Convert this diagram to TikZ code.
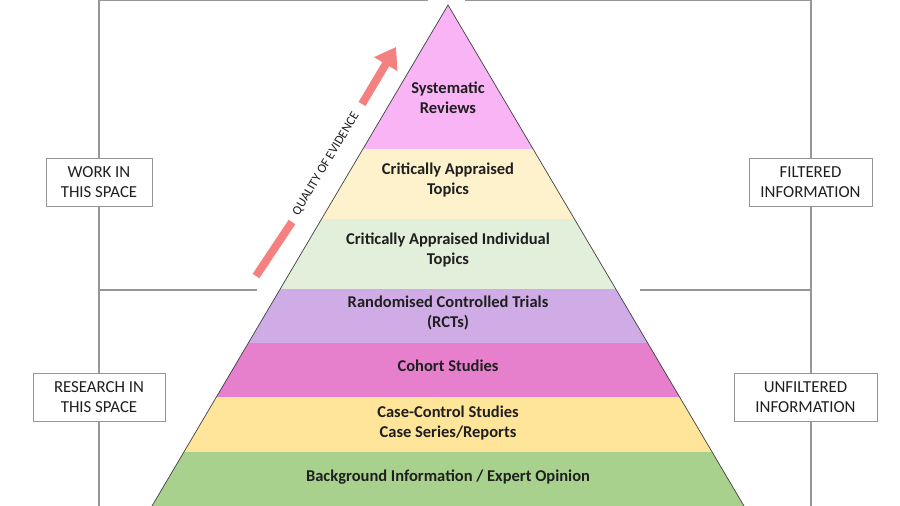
\documentclass[tikz,border=0pt]{standalone}
\usepackage{fontspec}
\setmainfont{Carlito}
\usetikzlibrary{arrows.meta,calc}
\definecolor{cSR}{RGB}{248,180,245}
\definecolor{cCAT}{RGB}{254,242,204}
\definecolor{cCAIT}{RGB}{226,239,218}
\definecolor{cRCT}{RGB}{207,172,230}
\definecolor{cCOH}{RGB}{230,128,204}
\definecolor{cCC}{RGB}{255,229,153}
\definecolor{cBG}{RGB}{169,209,142}
\definecolor{cArr}{RGB}{245,128,128}
\definecolor{cLine}{RGB}{150,150,150}
\tikzset{
  layertext/.style={align=center,font=\fontsize{16.5}{20.5}\selectfont\bfseries,text=black!88},
  sidebox/.style={draw=cLine,line width=0.9pt,fill=white,align=center,minimum height=48pt,inner sep=1pt,font=\fontsize{16.8}{20}\selectfont,text=black!88},
  guide/.style={draw=cLine,line width=1.1pt},
  qarrow/.style={draw=cArr,line width=8pt},
}
\begin{document}
\begin{tikzpicture}[x=1pt,y=-1pt]
\useasboundingbox (0,0) rectangle (900,506);
% pyramid layers
\fill[cSR] (448,5) -- (533.1,149) -- (362.9,149) -- cycle;
\fill[cCAT] (362.9,149) -- (533.1,149) -- (574.4,219) -- (321.6,219) -- cycle;
\fill[cCAIT] (321.6,219) -- (574.4,219) -- (615.8,289) -- (280.2,289) -- cycle;
\fill[cRCT] (280.2,289) -- (615.8,289) -- (647.7,343) -- (248.3,343) -- cycle;
\fill[cCOH] (248.3,343) -- (647.7,343) -- (679.6,397) -- (216.4,397) -- cycle;
\fill[cCC] (216.4,397) -- (679.6,397) -- (712.1,452) -- (183.9,452) -- cycle;
\fill[cBG] (183.9,452) -- (712.1,452) -- (744,506) -- (152,506) -- cycle;
\coordinate (apex) at (448,5);
\coordinate (bl) at (152,506);
\coordinate (br) at (744,506);
\draw[black!75,line width=0.7pt] (bl) -- (apex) -- (br);
% layer texts
\node[layertext] (sr) at (448,98) {Systematic\\Reviews};
\node[layertext] (cat) at (448,180) {Critically Appraised\\Topics};
\node[layertext] (cait) at (448,250) {Critically Appraised Individual\\Topics};
\node[layertext] (rct) at (448,313) {Randomised Controlled Trials\\(RCTs)};
\node[layertext] (coh) at (448,366) {Cohort Studies};
\node[layertext] (cc) at (448,423) {Case-Control Studies\\Case Series/Reports};
\node[layertext] (bg) at (448,477) {Background Information / Expert Opinion};
% guide lines
\coordinate (lt) at (99,0.6);
\coordinate (lb) at (99,506);
\coordinate (rt) at (811,0.6);
\coordinate (rb) at (811,506);
\coordinate (gapl) at (428,0.6);
\coordinate (gapr) at (465,0.6);
\coordinate (ml) at (99,290);
\coordinate (mle) at (257,290);
\coordinate (mr) at (811,290);
\coordinate (mre) at (640,290);
\node[sidebox,minimum width=106pt] (work) at (99,182) {WORK IN\\THIS SPACE};
\node[sidebox,minimum width=132pt] (research) at (99,397) {RESEARCH IN\\THIS SPACE};
\node[sidebox,minimum width=123pt] (filt) at (810.5,182) {FILTERED\\INFORMATION};
\node[sidebox,minimum width=143pt] (unfilt) at (805.5,397) {UNFILTERED\\INFORMATION};
\draw[guide] (gapl) -- (lt) -- (work.north);
\draw[guide] (work.south) -- (research.north);
\draw[guide] (research.south) -- (lb);
\draw[guide] (gapr) -- (rt) -- (rt |- filt.north);
\draw[guide] (rt |- filt.south) -- (rt |- unfilt.north);
\draw[guide] (rt |- unfilt.south) -- (rb);
\draw[guide] (ml) -- (mle);
\draw[guide] (mr) -- (mre);
% quality arrow
\coordinate (a1) at (256,276);
\coordinate (a2) at (292,222);
\coordinate (a3) at (362,104);
\coordinate (a4) at (396,47);
\draw[qarrow] (a1) -- (a2);
\draw[qarrow,-{Triangle[width=26pt,length=20pt]}] (a3) -- (a4);
\node[rotate=59,font=\fontsize{12.8}{14}\selectfont,text=black!88,inner sep=0pt] (qual) at (326,164) {QUALITY OF EVIDENCE};
\end{tikzpicture}
\end{document}
